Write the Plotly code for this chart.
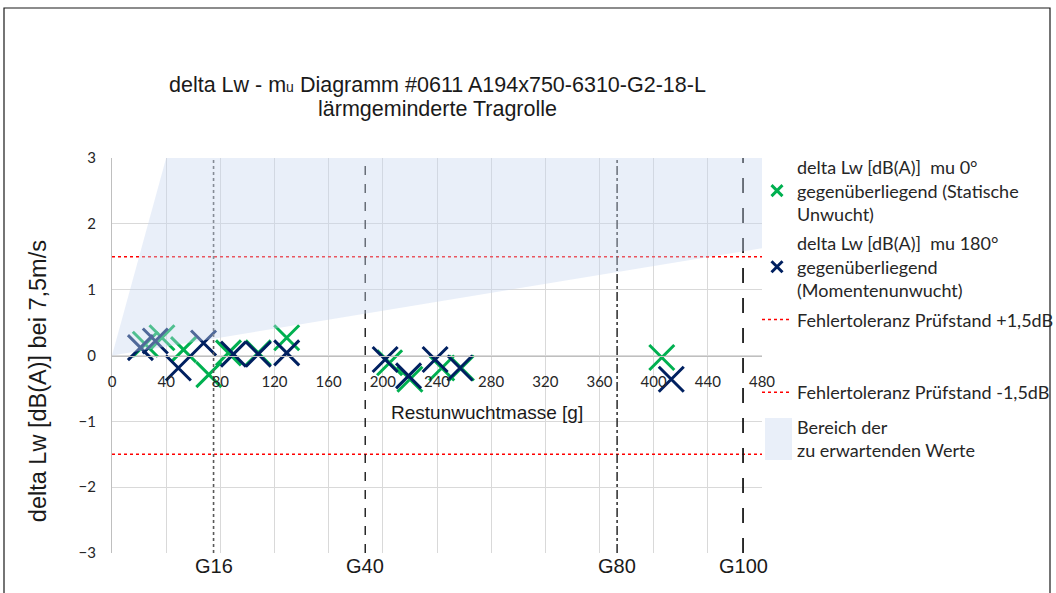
import plotly.graph_objects as go

# ---------------- data ----------------
mass_0 = [24.6, 36.9, 52.8, 71.5, 86, 108, 129, 205, 220, 243.5, 258, 406]
dlw_0 = [0.17, 0.27, 0.09, -0.29, 0.04, 0.04, 0.27, -0.11, -0.36, -0.19, -0.19, -0.03]
mass_180 = [21, 32, 49, 67.6, 89.7, 108, 129, 201.7, 219, 238.6, 257, 413]
dlw_180 = [0.12, 0.22, -0.19, 0.19, 0.02, 0.02, 0.04, -0.06, -0.31, -0.06, -0.19, -0.36]

tol_x = [0, 480]
tol_plus = [1.5, 1.5]
tol_minus = [-1.5, -1.5]

region_x = [0, 40, 480, 480]
region_y = [0, 3, 3, 1.63]

g_labels = ["G16", "G40", "G80", "G100"]
g_mass = [75, 187, 373, 466]
g_span = [-3, 3]

x_ticks = list(range(0, 481, 40))
y_ticks = [-3, -2, -1, 0, 1, 2, 3]

# ---------------- styles ----------------
GREEN = "#00B050"
NAVY = "#002060"
REGION = "rgba(200,215,240,0.4)"
g_styles = [("dot", "#595959", 1.6), ("dash", "#1a1a1a", 1.4),
            ("dashdot", "#1a1a1a", 1.4), ("longdash", "#1a1a1a", 1.8)]
LEG_FONT = dict(family="Lato, Carlito, sans-serif", size=18, color="#262626")
ARIAL = "Liberation Sans, Arial"

NAME_0 = "delta Lw [dB(A)]  mu 0°<br>gegenüberliegend (Statische<br>Unwucht)"
NAME_180 = "delta Lw [dB(A)]  mu 180°<br>gegenüberliegend<br>(Momentenunwucht)"

fig = go.Figure()

# data markers
fig.add_trace(go.Scatter(
    x=mass_0, y=dlw_0, mode="markers", name=NAME_0, showlegend=False,
    marker=dict(symbol="x-thin", size=25, line=dict(color=GREEN, width=3), color=GREEN)))
fig.add_trace(go.Scatter(
    x=mass_180, y=dlw_180, mode="markers", name=NAME_180, showlegend=False,
    marker=dict(symbol="x-thin", size=25, line=dict(color=NAVY, width=3), color=NAVY)))

# tolerance lines
fig.add_trace(go.Scatter(
    x=tol_x, y=tol_plus, mode="lines", showlegend=False,
    line=dict(color="#FF0000", width=1.5, dash="dot")))
fig.add_trace(go.Scatter(
    x=tol_x, y=tol_minus, mode="lines", showlegend=False,
    line=dict(color="#FF0000", width=1.5, dash="dot")))

# G-class vertical lines
for gx, (dash, col, w) in zip(g_mass, g_styles):
    fig.add_trace(go.Scatter(
        x=[gx, gx], y=g_span, mode="lines", showlegend=False,
        line=dict(color=col, width=w, dash=dash), hoverinfo="skip"))

# expected region (drawn on top, translucent)
fig.add_trace(go.Scatter(
    x=region_x, y=region_y, mode="lines", fill="toself", showlegend=False,
    fillcolor=REGION, line=dict(width=0, color="rgba(0,0,0,0)"), hoverinfo="skip"))

# ---------------- legend entries ----------------
fig.add_trace(go.Scatter(x=[None], y=[None], mode="markers", name=NAME_0,
                         marker=dict(symbol="x-thin", size=11, line=dict(color=GREEN, width=3)),
                         legend="legend", legendgroup="a"))
fig.add_trace(go.Scatter(x=[None], y=[None], mode="markers", name=NAME_180,
                         marker=dict(symbol="x-thin", size=11, line=dict(color=NAVY, width=3)),
                         legend="legend", legendgroup="b"))
fig.add_trace(go.Scatter(x=[None], y=[None], mode="lines", name="Fehlertoleranz Prüfstand +1,5dB",
                         line=dict(color="#FF0000", width=1.5, dash="dot"),
                         legend="legend", legendgroup="c"))
fig.add_trace(go.Scatter(x=[None], y=[None], mode="lines", name="Fehlertoleranz Prüfstand -1,5dB",
                         line=dict(color="#FF0000", width=1.5, dash="dot"),
                         legend="legend2", legendgroup="d"))
fig.add_trace(go.Scatter(x=[None], y=[None], mode="lines", name="Bereich der<br>zu erwartenden Werte",
                         line=dict(color="rgba(0,0,0,0)", width=0),
                         legend="legend2", legendgroup="e"))

# patch for region legend symbol
fig.add_shape(type="rect", xref="paper", yref="paper",
              x0=(765 - 112) / 650, x1=(792 - 112) / 650,
              y0=(553 - 460) / 395, y1=(553 - 418) / 395,
              line=dict(width=0), fillcolor=REGION, layer="above")

# G labels
for gx, lab in zip(g_mass, g_labels):
    fig.add_annotation(x=gx, y=-0.033, xref="x", yref="paper", text=lab,
                       showarrow=False, yanchor="middle", xanchor="center",
                       font=dict(family=ARIAL, size=20, color="#1a1a1a"))

# title (two lines)
fig.add_annotation(x=0.5, y=(553 - 85) / 395, xref="paper", yref="paper",
                   text="delta Lw - m<span style='font-size:14px'>u</span> Diagramm #0611 A194x750-6310-G2-18-L",
                   showarrow=False, yanchor="middle",
                   font=dict(family=ARIAL, size=21.5, color="#1a1a1a"))
fig.add_annotation(x=0.5, y=(553 - 109) / 395, xref="paper", yref="paper",
                   text="lärmgeminderte Tragrolle",
                   showarrow=False, yanchor="middle",
                   font=dict(family=ARIAL, size=21.5, color="#1a1a1a"))

# axis titles
fig.add_annotation(x=(38 - 112) / 650, y=0.435, xref="paper", yref="paper",
                   text="delta Lw [dB(A)] bei 7,5m/s", textangle=-90,
                   showarrow=False, xanchor="center", yanchor="middle",
                   font=dict(family=ARIAL, size=23.5, color="#1a1a1a"))
fig.add_annotation(x=277, y=-0.865, xref="x", yref="y",
                   text="Restunwuchtmasse [g]",
                   showarrow=False, xanchor="center", yanchor="middle",
                   font=dict(family=ARIAL, size=19, color="#1a1a1a"))

# outer chart border
fig.add_shape(type="rect", xref="paper", yref="paper",
              x0=(4 - 112) / 650, x1=(1050 - 112) / 650,
              y0=(553 - 600) / 395, y1=(553 - 8) / 395,
              line=dict(color="#1a1a1a", width=1.2), fillcolor="rgba(0,0,0,0)", layer="above")

fig.update_layout(
    width=1056, height=593,
    margin=dict(l=112, r=294, t=158, b=40, autoexpand=False),
    paper_bgcolor="white", plot_bgcolor="white",
    showlegend=True,
    legend=dict(x=757 / 1056, y=1 - 149 / 593, xref="container", yref="container",
                xanchor="left", yanchor="top", font=LEG_FONT,
                tracegroupgap=3, bgcolor="rgba(0,0,0,0)"),
    legend2=dict(x=757 / 1056, y=1 - 374 / 593, xref="container", yref="container",
                 xanchor="left", yanchor="top", font=LEG_FONT,
                 tracegroupgap=8, bgcolor="rgba(0,0,0,0)"),
    xaxis=dict(range=[0, 480], tickvals=x_ticks, showgrid=True, gridcolor="#d9d9d9",
               gridwidth=1, zeroline=False, showline=True, linecolor="#bfbfbf",
               anchor="free", position=0.5, ticks="", ticklabelstandoff=12,
               tickfont=dict(family="Lato, Carlito, sans-serif", size=15, color="#262626")),
    yaxis=dict(range=[-3, 3], tickvals=y_ticks, showgrid=True, gridcolor="#d9d9d9",
               gridwidth=1, zeroline=False, showline=True, linecolor="#bfbfbf",
               ticks="", ticklabelstandoff=12,
               tickfont=dict(family="Lato, Carlito, sans-serif", size=15, color="#262626")),
)

fig.write_html("out.html", config={"displayModeBar": False},
               post_script="document.body.style.margin='0';document.body.style.overflow='hidden';")
